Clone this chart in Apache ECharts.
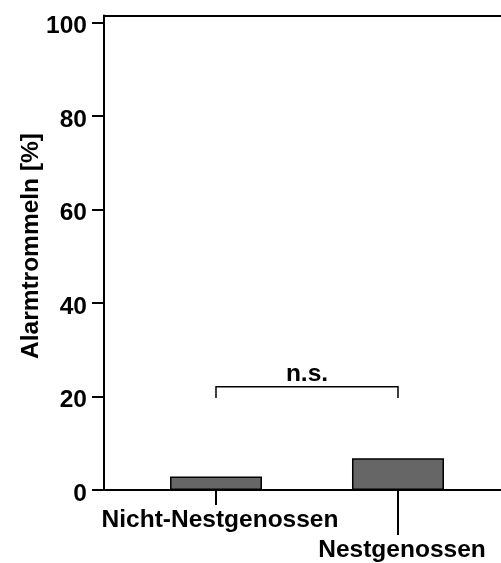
<!DOCTYPE html>
<html>
<head>
<meta charset="utf-8">
<script src="https://cdn.jsdelivr.net/npm/echarts@6/dist/echarts.min.js"></script>
<style>
  html, body { margin: 0; padding: 0; background: #fff; }
  #chart { width: 501px; height: 563px; }
</style>
</head>
<body>
<div id="chart"></div>
<script>
// Group names, in order along the x axis
const categories = ['Nicht-Nestgenossen', 'Nestgenossen'];
// Share of alarm drumming per group, in percent
const values = [2.9, 6.8];
// Labelled ticks on the percentage axis
const yTicks = [0, 20, 40, 60, 80, 100];
// Significance bracket between the two groups: [from, to, bar level, leg end]
const bracket = [0, 1, 22.1, 19.7];
const bracketText = 'n.s.';
const yTitle = 'Alarmtrommeln [%]';

const FONT = '"Liberation Sans", Arial, Helvetica, sans-serif';
const FONT_CSS = 'bold 24.5px ' + FONT;
const X_MIN = -0.6154, X_MAX = 1.566;

const chart = echarts.init(document.getElementById('chart'), null, { renderer: 'canvas' });

const option = {
  animation: false,
  backgroundColor: '#fff',
  textStyle: { fontFamily: FONT },
  grid: { left: 104, right: 0, top: 15.5, bottom: 73 },
  xAxis: [
    {
      type: 'value', min: X_MIN, max: X_MAX,
      axisLine: { show: true, lineStyle: { color: '#000', width: 2 } },
      axisTick: { show: false }, axisLabel: { show: false }, splitLine: { show: false }
    },
    {
      type: 'value', position: 'top', min: X_MIN, max: X_MAX,
      axisLine: { show: true, onZero: false, lineStyle: { color: '#000', width: 2 } },
      axisTick: { show: false }, axisLabel: { show: false }, splitLine: { show: false }
    }
  ],
  yAxis: {
    type: 'value', min: 0, max: 101.5,
    axisLine: { show: true, onZero: false, lineStyle: { color: '#000', width: 2 } },
    axisTick: { show: true, length: 12, customValues: yTicks, lineStyle: { color: '#000', width: 2 } },
    axisLabel: {
      customValues: yTicks, margin: 17, fontSize: 24.5, fontWeight: 'bold', color: '#000',
      fontFamily: FONT, verticalAlign: 'top', lineHeight: 8
    },
    splitLine: { show: false }
  },
  graphic: [
    {
      type: 'text', x: 31, y: 246, rotation: Math.PI / 2,
      style: {
        text: yTitle, fill: '#000', font: FONT_CSS,
        align: 'center', verticalAlign: 'middle'
      }
    }
  ],
  series: [
    {
      type: 'bar',
      xAxisIndex: 0,
      data: values.map((v, i) => [i, v]),
      barWidth: 92,
      itemStyle: { color: '#666666', borderColor: '#000', borderWidth: 1.5 }
    },
    {
      // category ticks and staggered group labels below the x axis
      type: 'custom',
      xAxisIndex: 0,
      clip: false,
      data: categories.map((c, i) => [i, 0]),
      renderItem: function (params, api) {
        const i = params.dataIndex;
        const p = api.coord([api.value(0), 0]);
        const len = i % 2 ? 45 : 15;
        return {
          type: 'group',
          children: [
            {
              type: 'line',
              shape: { x1: p[0], y1: p[1], x2: p[0], y2: p[1] + len },
              style: { stroke: '#000', lineWidth: 2 }
            },
            {
              type: 'text',
              x: p[0] + 4, y: p[1] + len + 15,
              style: {
                text: categories[i], fill: '#000', font: FONT_CSS,
                align: 'center', verticalAlign: 'middle'
              }
            }
          ]
        };
      }
    },
    {
      // significance bracket
      type: 'custom',
      xAxisIndex: 0,
      clip: false,
      data: [bracket],
      renderItem: function (params, api) {
        const a = api.coord([api.value(0), api.value(2)]);
        const b = api.coord([api.value(1), api.value(2)]);
        const legY = api.coord([api.value(0), api.value(3)])[1];
        return {
          type: 'group',
          children: [
            {
              type: 'polyline',
              shape: { points: [[a[0], legY], [a[0], a[1]], [b[0], a[1]], [b[0], legY]] },
              style: { stroke: '#000', lineWidth: 1.5, fill: null }
            },
            {
              type: 'text',
              x: (a[0] + b[0]) / 2, y: a[1] - 12,
              style: {
                text: bracketText, fill: '#000', font: FONT_CSS,
                align: 'center', verticalAlign: 'middle'
              }
            }
          ]
        };
      }
    }
  ]
};

chart.setOption(option);
</script>
</body>
</html>
